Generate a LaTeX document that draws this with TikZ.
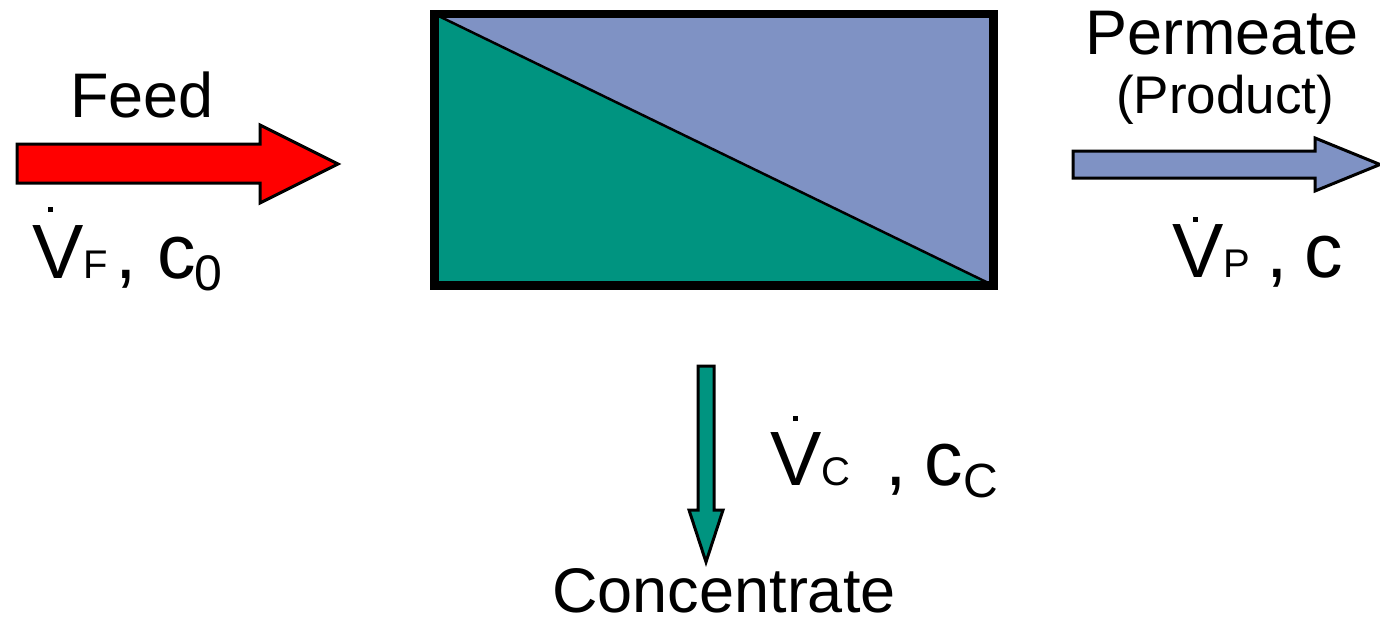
\documentclass[tikz,border=0pt]{standalone}
\usepackage{fontspec}
\setmainfont{Liberation Sans}

\definecolor{feedred}{RGB}{255,0,0}
\definecolor{permblue}{RGB}{127,146,196}
\definecolor{concgreen}{RGB}{0,148,128}

\newcommand{\bigfont}{\fontsize{63}{70}\selectfont}
\newcommand{\prodfont}{\fontsize{53}{60}\selectfont}
\newcommand{\symfont}{\fontsize{77}{80}\selectfont}
\newcommand{\subfont}{\fontsize{40}{44}\selectfont}
\newcommand{\lowfont}{\fontsize{50}{52}\selectfont}
% V with the flow dot over it: #1 shift right, #2 raise
\newcommand{\Vdot}[2]{\makebox[0pt][l]{\kern#1\rule[#2]{5pt}{5pt}}V}

\begin{document}
\begin{tikzpicture}[
		x=1pt, y=-1pt,
		every node/.style={inner sep=0pt, outer sep=0pt},
		module/.style={
			draw,
			line width=8.5pt,
			minimum width=559pt,
			minimum height=271.5pt,
			path picture={
				\fill[permblue] (path picture bounding box.north west)
				-| (path picture bounding box.south east) -- cycle;
				\fill[concgreen] (path picture bounding box.north west)
				|- (path picture bounding box.south east) -- cycle;
				\draw[line width=2.5pt] (path picture bounding box.north west)
				-- (path picture bounding box.south east);
			}
		},
		flow/.style={
			draw,
			line width=3pt,
			line join=miter
		},
		streamname/.style={font=\bigfont, anchor=base},
		streamdata/.style={anchor=base west}
		]
		
		\useasboundingbox (0,0) rectangle (1380,619);
		
		% Membrane module
		\node[module] (module) at (714,149.75) {};
		
		% Stream arrows
		\draw[flow, fill=feedred]
		(17,144) -- (260,144) -- (260,125) -- (338,164)
		-- (260,203) -- (260,183) -- (17,183) -- cycle;
		
		\draw[flow, fill=permblue]
		(1073,151) -- (1315,151) -- (1315,138) -- (1380,164.5)
		-- (1315,191) -- (1315,178) -- (1073,178) -- cycle;
		
		\draw[flow, fill=concgreen]
		(698,366) -- (714,366) -- (714,510) -- (723,510)
		-- (706,562) -- (689,510) -- (698,510) -- cycle;
		
		% Stream names
		\node[streamname] (feed) at (142,117) {Feed};
		\node[streamname] (permeate) at (1222,54) {Permeate};
		\node[anchor=base, font=\prodfont] (product) at (1225,113) {(Product)};
		\node[streamname, text depth=0pt] (concentrate) at (724,612) {Concentrate};
		
		% Flow rates and concentrations
		\node[streamdata] (feeddata) at (32,278)
		{\symfont\Vdot{16pt}{66pt}\subfont F\kern8pt\symfont,\kern20pt c\kern-1pt\raisebox{-12pt}{\lowfont 0}};
		\node[streamdata] (permdata) at (1172,277)
		{\symfont\Vdot{21pt}{55pt}\subfont P\kern16pt\symfont,\kern17pt c};
		\node[streamdata] (concdata) at (770,485)
		{\symfont\Vdot{23pt}{64pt}\subfont C\kern35pt\symfont,\kern18pt c\kern0pt\raisebox{-12pt}{\fontsize{48}{50}\selectfont C}};
	\end{tikzpicture}
\end{document}
